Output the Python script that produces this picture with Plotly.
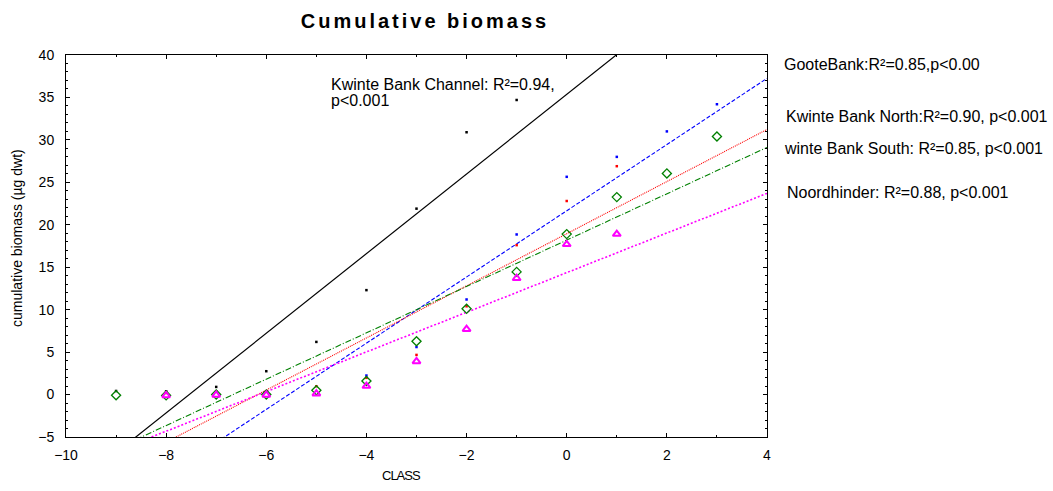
import plotly.graph_objects as go

# ---------------- data ----------------
classes_kbc = [-9, -8, -7, -6, -5, -4, -3, -2, -1]
biomass_kbc = [0.42, 0.39, 0.9, 2.75, 6.2, 12.3, 21.9, 30.9, 34.7]

classes_goote = [-4, -3, -2, -1, 0, 1, 2, 3]
biomass_goote = [2.24, 5.6, 11.2, 18.86, 25.65, 28.0, 31.0, 34.2]

classes_kbn = [-8, -7, -6, -5, -4, -3, -2, -1, 0, 1]
biomass_kbn = [0.19, 0.39, 0.39, 0.98, 1.97, 4.67, 10.4, 17.6, 22.8, 26.9]

classes_kbs = [-9, -8, -7, -6, -5, -4, -3, -2, -1, 0, 1, 2, 3]
biomass_kbs = [-0.08, -0.1, 0.0, 0.0, 0.5, 1.6, 6.28, 10.1, 14.45, 18.9, 23.26, 26.05, 30.4]

classes_nh = [-8, -7, -6, -5, -4, -3, -2, -1, 0, 1]
biomass_nh = [-0.1, -0.05, -0.05, 0.1, 1.0, 3.9, 7.7, 13.7, 17.7, 18.9]

# regression lines (slope, intercept) as drawn in the reference
fit_slope = {"kbc": 4.69, "goote": 3.90, "kbn": 3.07, "kbs": 2.73, "nh": 2.335}
fit_intercept = {"kbc": 35.36, "goote": 21.65, "kbn": 18.95, "kbs": 18.19, "nh": 14.36}

x_range = [-10, 4]
y_range = [-5, 40]
x_ticks = [-10, -8, -6, -4, -2, 0, 2, 4]
y_ticks = [-5, 0, 5, 10, 15, 20, 25, 30, 35, 40]

annotation_texts = {
    "kbc1": "Kwinte Bank Channel: R²=0.94,",
    "kbc2": "p<0.001",
    "goote": "GooteBank:R²=0.85,p<0.00",
    "kbn": "Kwinte Bank North:R²=0.90, p<0.001",
    "kbs": "winte Bank South: R²=0.85, p<0.001",
    "nh": "Noordhinder: R²=0.88, p<0.001",
}

# ---------------- figure ----------------
FONT = "Liberation Sans, Arial, sans-serif"
W, H = 1053, 491
L, R, T, B = 66, 286, 55, 54

fig = go.Figure()

line_styles = {
    "kbc": dict(color="black", width=1.2, dash="solid"),
    "goote": dict(color="#0000ff", width=1.1, dash="4px,2px"),
    "kbn": dict(color="#ff0000", width=1.1, dash="1px,1px"),
    "kbs": dict(color="#008000", width=1.1, dash="6px,2px,1px,2px"),
    "nh": dict(color="#ff00ff", width=1.6, dash="2px,2px"),
}

for key in ["kbc", "goote", "kbn", "kbs", "nh"]:
    xs = list(x_range)
    ys = [fit_intercept[key] + fit_slope[key] * x for x in xs]
    fig.add_trace(go.Scatter(x=xs, y=ys, mode="lines", line=line_styles[key],
                             hoverinfo="skip", showlegend=False))

def dots(xs, ys, color):
    fig.add_trace(go.Scatter(x=xs, y=ys, mode="markers",
                             marker=dict(symbol="square", size=2.5, color=color,
                                         line=dict(width=0)),
                             showlegend=False))

dots(classes_kbc, biomass_kbc, "black")
dots(classes_goote, biomass_goote, "#0000ff")
dots(classes_kbn, biomass_kbn, "#ff0000")

fig.add_trace(go.Scatter(x=classes_kbs, y=biomass_kbs, mode="markers",
                         marker=dict(symbol="diamond-open", size=7, color="#008000",
                                     line=dict(width=1.3, color="#008000")),
                         showlegend=False))
fig.add_trace(go.Scatter(x=classes_nh, y=biomass_nh, mode="markers",
                         marker=dict(symbol="triangle-up-open", size=7, color="#ff00ff",
                                     line=dict(width=2, color="#ff00ff")),
                         showlegend=False))

axis_common = dict(
    showline=True, linecolor="black", linewidth=1, mirror="ticks",
    ticks="inside", ticklen=4, tickcolor="black", tickwidth=1,
    showgrid=False, zeroline=False,
    tickfont=dict(family=FONT, size=14, color="black"),
)

fig.update_xaxes(range=x_range, tickvals=x_ticks, ticklabelstandoff=5,
                 minor=dict(dtick=1, ticks="inside", ticklen=2, tickcolor="black"),
                 **axis_common)
fig.update_yaxes(range=y_range, tickvals=y_ticks, ticklabelstandoff=8,
                 minor=dict(dtick=1, ticks="inside", ticklen=2, tickcolor="black"),
                 **axis_common)

pw, ph = W - L - R, H - T - B

def px_x(p):
    return (p - L) / pw

def px_y(p):
    return (H - B - p) / ph

annots = [
    ("kbc1", 329, 84),
    ("kbc2", 329, 101),
    ("goote", 782, 64),
    ("kbn", 784, 116),
    ("kbs", 782, 148),
    ("nh", 785, 192),
]
for key, xp, yp in annots:
    fig.add_annotation(text=annotation_texts[key], xref="paper", yref="paper",
                       x=px_x(xp), y=px_y(yp), xanchor="left", yanchor="middle",
                       align="left", showarrow=False,
                       font=dict(family=FONT, size=16, color="black"))

# axis titles
fig.add_annotation(text='<span style="letter-spacing:-1px">CLASS</span>',
                   xref="paper", yref="paper", x=px_x(401), y=px_y(475),
                   xanchor="center", yanchor="middle", showarrow=False,
                   font=dict(family=FONT, size=13, color="black"))
fig.add_annotation(text="cumulative biomass (µg dwt)", textangle=-90,
                   xref="paper", yref="paper", x=px_x(17), y=px_y(238),
                   xanchor="center", yanchor="middle", showarrow=False,
                   font=dict(family=FONT, size=14, color="black"))

fig.update_layout(
    width=W, height=H,
    margin=dict(l=L, r=R, t=T, b=B),
    paper_bgcolor="white", plot_bgcolor="white",
    showlegend=False,
    title=dict(text='<span style="letter-spacing:3px"><b>Cumulative biomass</b></span>',
               x=px_x(425), xref="paper", xanchor="center",
               y=1 - 21 / H, yref="container", yanchor="middle",
               font=dict(family=FONT, size=20, color="black")),
)

fig.write_html("out.html")
